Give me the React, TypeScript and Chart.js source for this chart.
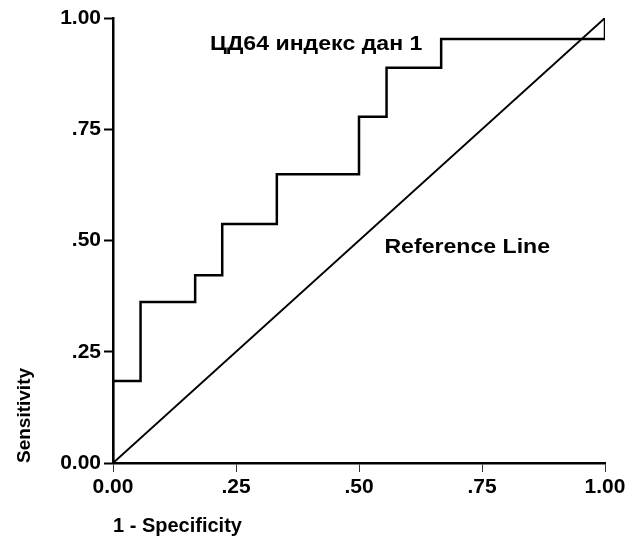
import React, { useEffect, useRef } from "react";
import { Chart, registerables } from "chart.js";

Chart.register(...registerables);

// ROC curve points (1 - Specificity, Sensitivity)
const rocFpr = [0, 0, 0.056, 0.167, 0.222, 0.333, 0.5, 0.556, 0.667, 1.0];
const rocTpr = [0, 0.184, 0.362, 0.422, 0.537, 0.649, 0.778, 0.888, 0.953, 1.0];

// Reference (diagonal) line
const refX = [0, 1];
const refY = [0, 1];

const tickValues = [0, 0.25, 0.5, 0.75, 1];
const tickLabels = ["0.00", ".25", ".50", ".75", "1.00"];

const curveLabel = "ЦД64 индекс дан 1";
const referenceLabel = "Reference Line";
const xTitle = "1 - Specificity";
const yTitle = "Sensitivity";

const FONT = "'Liberation Sans', Arial, sans-serif";

const labelPlugin = {
  id: "inlineLabels",
  afterDatasetsDraw(chart: any) {
    const { ctx, scales } = chart;
    const xs = scales.x;
    const ys = scales.y;
    const stretch = 1.1;
    const draw = (text: string, vx: number, vy: number) => {
      const px = xs.getPixelForValue(vx);
      const py = ys.getPixelForValue(vy);
      ctx.save();
      ctx.translate(px, py);
      ctx.scale(stretch, 1);
      ctx.fillStyle = "#000";
      ctx.textAlign = "center";
      ctx.textBaseline = "middle";
      ctx.font = `bold 21px ${FONT}`;
      ctx.fillText(text, 0, 0);
      ctx.restore();
    };
    draw(curveLabel, 0.413, 0.94);
    draw(referenceLabel, 0.72, 0.485);
  },
};

export default function App() {
  const canvasRef = useRef<HTMLCanvasElement | null>(null);

  useEffect(() => {
    if (!canvasRef.current) return;
    const fmt = (v: number) => {
      const i = tickValues.findIndex((t) => Math.abs(t - v) < 1e-6);
      return i >= 0 ? tickLabels[i] : "";
    };
    const chart = new Chart(canvasRef.current, {
      type: "scatter",
      data: {
        datasets: [
          {
            label: curveLabel,
            data: rocFpr.map((x, i) => ({ x, y: rocTpr[i] })),
            showLine: true,
            stepped: "before",
            borderColor: "#000",
            borderWidth: 2.5,
            pointRadius: 0,
            fill: false,
          },
          {
            label: referenceLabel,
            data: refX.map((x, i) => ({ x, y: refY[i] })),
            showLine: true,
            borderColor: "#000",
            borderWidth: 2,
            pointRadius: 0,
            fill: false,
          },
        ],
      },
      options: {
        animation: false,
        responsive: true,
        maintainAspectRatio: false,
        layout: { padding: { left: 0, right: 31, top: 18, bottom: 0 } },
        plugins: {
          legend: { display: false },
          tooltip: { enabled: false },
        },
        scales: {
          x: {
            type: "linear",
            min: 0,
            max: 1,
            afterFit: (s: any) => {
              s.height = 80;
            },
            afterBuildTicks: (s: any) => {
              s.ticks = tickValues.map((v) => ({ value: v }));
            },
            border: { display: true, color: "#000", width: 2.5 },
            grid: {
              display: true,
              drawOnChartArea: false,
              drawTicks: true,
              tickLength: 9,
              tickWidth: 1,
              tickColor: "#333",
            },
            ticks: {
              color: "#000",
              font: { family: FONT, size: 21, weight: "bold" },
              padding: 3,
              maxRotation: 0,
              callback: (v: any) => fmt(Number(v)),
            },
            title: {
              display: true,
              text: xTitle,
              align: "start",
              color: "#000",
              font: { family: FONT, size: 20, weight: "bold" },
              padding: { top: 0, bottom: 5 },
            },
          },
          y: {
            type: "linear",
            min: 0,
            max: 1,
            afterFit: (s: any) => {
              s.width = 113;
            },
            afterBuildTicks: (s: any) => {
              s.ticks = tickValues.map((v) => ({ value: v }));
            },
            border: { display: true, color: "#000", width: 2.5 },
            grid: {
              display: true,
              drawOnChartArea: false,
              drawTicks: true,
              tickLength: 9,
              tickWidth: 2,
              tickColor: "#000",
            },
            ticks: {
              color: "#000",
              font: { family: FONT, size: 21, weight: "bold" },
              padding: 3,
              callback: (v: any) => fmt(Number(v)),
            },
            title: {
              display: true,
              text: yTitle,
              align: "start",
              color: "#000",
              font: { family: FONT, size: 19, weight: "bold" },
              padding: { top: 13, bottom: 0 },
            },
          },
        },
      },
      plugins: [labelPlugin],
    } as any);
    return () => chart.destroy();
  }, []);

  return (
    <div
      style={{
        position: "fixed",
        left: 0,
        top: 0,
        width: 636,
        height: 543,
        background: "#fff",
      }}
    >
      <canvas ref={canvasRef} />
    </div>
  );
}
